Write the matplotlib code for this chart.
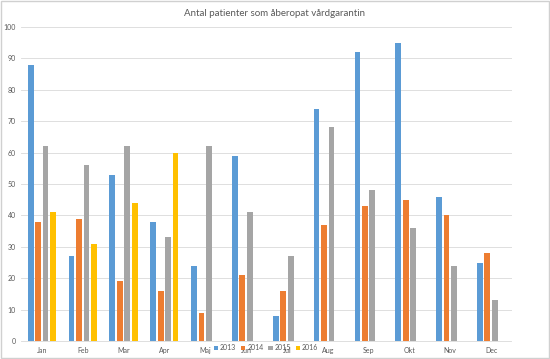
import numpy as np
import matplotlib.pyplot as plt
from matplotlib.patches import Rectangle

months = ['Jan', 'Feb', 'Mar', 'Apr', 'Maj', 'Jun', 'Jul', 'Aug', 'Sep', 'Okt', 'Nov', 'Dec']
years = ['2013', '2014', '2015', '2016']
v2013 = [88, 27, 53, 38, 24, 59, 8, 74, 92, 95, 46, 25]
v2014 = [38, 39, 19, 16, 9, 21, 16, 37, 43, 45, 40, 28]
v2015 = [62, 56, 62, 33, 62, 41, 27, 68, 48, 36, 24, 13]
v2016 = [41, 31, 44, 60, np.nan, np.nan, np.nan, np.nan, np.nan, np.nan, np.nan, np.nan]
colors = ['#5B9BD5', '#ED7D31', '#A5A5A5', '#FFC000']

plt.rcParams['font.family'] = ['Lato', 'DejaVu Sans']

fig = plt.figure(figsize=(5.5, 3.59), dpi=100)
ax = fig.add_axes([0.039, 0.05, 0.891, 0.875])

x = np.arange(len(months))
w = 0.142
step = 0.182
for i, (vals, c, lab) in enumerate(zip([v2013, v2014, v2015, v2016], colors, years)):
    ax.bar(x + (i - 1.5) * step, vals, width=w, color=c, label=lab, zorder=3)

ax.set_xlim(-0.5, len(months) - 0.5)
ax.set_ylim(0, 100)
ax.set_yticks(range(0, 101, 10))
ax.set_xticks(x)
ax.set_xticklabels(months)
ax.tick_params(axis='both', length=0, labelsize=5, colors='#595959', pad=4)
ax.grid(axis='y', color='#D9D9D9', linewidth=0.6, zorder=0)
for s in ['top', 'right', 'left']:
    ax.spines[s].set_visible(False)
ax.spines['bottom'].set_color('#D9D9D9')
ax.spines['bottom'].set_linewidth(0.6)

fig.suptitle('Antal patienter som åberopat vårdgarantin', y=0.975, fontsize=7, color='#595959')

fig.legend(loc='center', bbox_to_anchor=(266 / 550, 1 - 348 / 359), ncol=4, fontsize=5,
           frameon=False, handlelength=0.6, handleheight=0.6, handletextpad=0.3,
           columnspacing=0.7, labelcolor='#595959')

fig.patches.append(Rectangle((0.002, 0.003), 0.996, 0.994, transform=fig.transFigure,
                             fill=False, edgecolor='#D0D0D0', linewidth=1))

fig.savefig('out.png', dpi=100)
